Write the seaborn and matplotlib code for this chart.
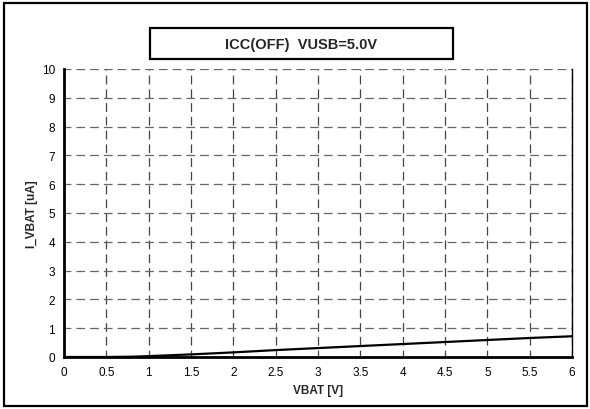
import matplotlib
matplotlib.use("Agg")
import matplotlib.pyplot as plt
import seaborn as sns
import pandas as pd
from matplotlib.patches import Rectangle

# values
vbat = [0.0, 0.5, 0.8, 1.0, 1.5, 2.0, 2.5, 3.0, 3.5, 4.0, 4.5, 5.0, 5.5, 6.0]
i_vbat = [0.0, 0.0, 0.01, 0.03, 0.09, 0.16, 0.24, 0.31, 0.38, 0.45, 0.52, 0.59, 0.66, 0.72]
title = "ICC(OFF)  VUSB=5.0V"
x_ticks = [0, 0.5, 1, 1.5, 2, 2.5, 3, 3.5, 4, 4.5, 5, 5.5, 6]
x_labels = ["0", "0.5", "1", "1.5", "2", "2.5", "3", "3.5", "4", "4.5", "5", "5.5", "6"]
y_ticks = list(range(0, 11))

sns.set_style("white")
plt.rcParams['font.family'] = ['Liberation Sans', 'DejaVu Sans']

df = pd.DataFrame({"VBAT": vbat, "I": i_vbat})

fig = plt.figure(figsize=(5.9, 4.1), dpi=100)
ax = fig.add_axes([64 / 590, 1 - 358 / 410, (572 - 64) / 590, (358 - 70) / 410])

sns.lineplot(data=df, x="VBAT", y="I", ax=ax, color="black", linewidth=1.6)

ax.set_xlim(0, 6)
ax.set_ylim(0, 10)
ax.set_xticks(x_ticks)
ax.set_xticklabels(x_labels)
ax.set_yticks(y_ticks)
ax.grid(True, axis="y", color="#666666", linestyle=(1.5, (7, 4)), linewidth=0.9)
ax.grid(True, axis="x", color="#444444", linestyle=(1.5, (7, 4)), linewidth=0.9)
ax.set_axisbelow(True)

for s in ["left", "bottom"]:
    ax.spines[s].set_linewidth(2.0)
    ax.spines[s].set_color("black")
ax.spines["right"].set_linewidth(1.0)
ax.spines["right"].set_color("black")
ax.spines["top"].set_visible(False)

ax.tick_params(axis="both", direction="inout", length=7, width=1.6, color="black",
               labelsize=8.5, labelcolor="black", pad=3)
ax.set_xlabel("VBAT [V]", fontsize=8.5, fontweight="bold", labelpad=4)
ax.set_ylabel("I_VBAT [uA]", fontsize=8.5, fontweight="bold", labelpad=3)

# title box
fig.patches.append(Rectangle((150 / 590, 1 - 60 / 410), 303 / 590, 31 / 410,
                             transform=fig.transFigure, fill=False,
                             edgecolor="black", linewidth=1.6))
fig.text(301.5 / 590, 1 - 44.5 / 410, title, ha="center", va="center",
         fontsize=10.5, fontweight="bold")

# outer frame
fig.patches.append(Rectangle((4 / 590, 3 / 410), 583 / 590, 403 / 410,
                             transform=fig.transFigure, fill=False,
                             edgecolor="black", linewidth=1.6))

fig.savefig("out.png", dpi=100)
